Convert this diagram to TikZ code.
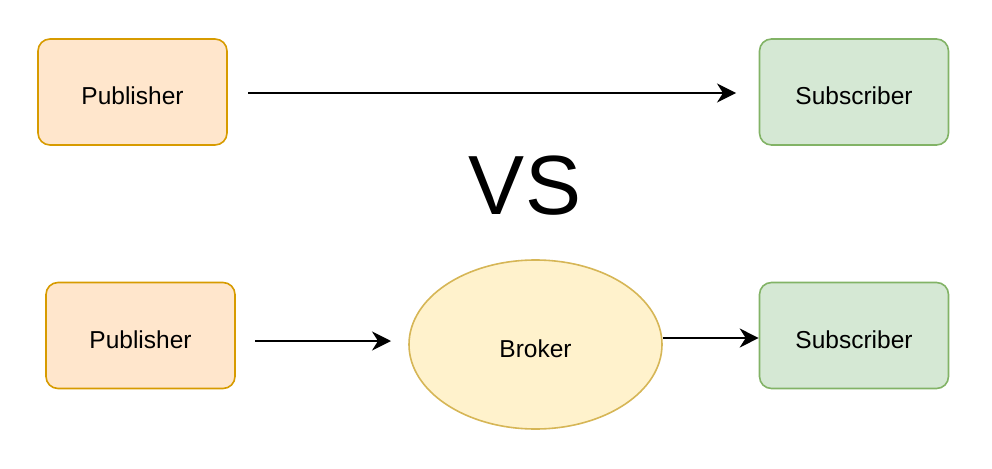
\documentclass[tikz,border=0pt]{standalone}
\usepackage{fontspec}
\setmainfont{Liberation Sans}
\usetikzlibrary{shapes.geometric,arrows.meta}
\definecolor{pubfill}{HTML}{FFE6CC}
\definecolor{pubdraw}{HTML}{D79B00}
\definecolor{subfill}{HTML}{D5E8D4}
\definecolor{subdraw}{HTML}{82B366}
\definecolor{brkfill}{HTML}{FFF2CC}
\definecolor{brkdraw}{HTML}{D6B656}
\tikzset{
    label font/.style={font=\fontsize{24.5}{28}\selectfont,text height=26pt,text depth=0pt},
    box/.style={rectangle,rounded corners=12pt,line width=1.6pt,minimum width=189pt,minimum height=106pt,label font},
    pubbox/.style={box,fill=pubfill,draw=pubdraw},
    subbox/.style={box,fill=subfill,draw=subdraw},
    flow/.style={line width=1.6pt,-{Stealth[length=19pt,width=19pt,inset=6pt]}}
}
\begin{document}
\begin{tikzpicture}[x=1pt,y=-1pt]
    \useasboundingbox (0,0) rectangle (992,468);
    % direct
    \node[pubbox] (pubA) at (132.5,92) {Publisher};
    \node[subbox] (subA) at (854,92) {Subscriber};
    \coordinate (a1) at (248,93);
    \coordinate (a2) at (736,93);
    \draw[flow] (a1)--(a2);
    \node[font=\fontsize{84}{90}\selectfont] (vs) at (525,186) {VS};
    % with broker
    \node[pubbox] (pubB) at (140.5,335.5) {Publisher};
    \node[ellipse,fill=brkfill,draw=brkdraw,line width=1.6pt,minimum width=253pt,minimum height=169pt,label font] (brk) at (535.5,344.5) {Broker};
    \node[subbox] (subB) at (854,335.5) {Subscriber};
    \coordinate (b1) at (255,341);
    \coordinate (b2) at (391,341);
    \draw[flow] (b1)--(b2);
    \draw[flow] (brk.east|-0,338)--(subB.west|-0,338);
\end{tikzpicture}
\end{document}
